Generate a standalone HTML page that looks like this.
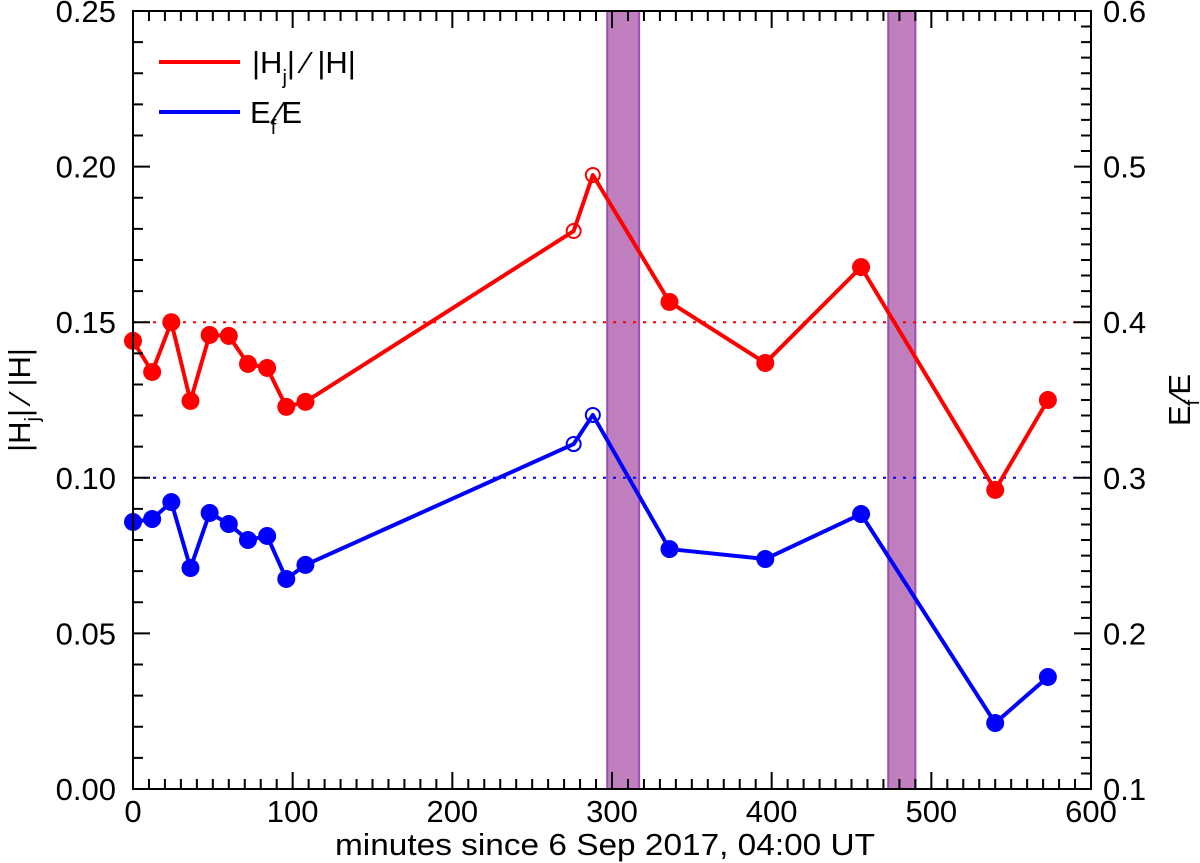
<!DOCTYPE html>
<html><head><meta charset="utf-8"><style>
body{margin:0;background:#fff}
svg{display:block;font-family:"Liberation Sans",Arial,sans-serif}
</style></head><body>
<svg id="chart" width="1200" height="863" viewBox="0 0 1200 863" xmlns="http://www.w3.org/2000/svg">
<g id="bands"></g>
<g id="refs"></g>
<g id="series"></g>
<g id="axes"></g>
<g id="legend">
  <line x1="159" y1="62" x2="240" y2="62" stroke="#f00" stroke-width="4"/>
  <text x="252" y="73" font-size="31">|H<tspan font-size="20" dy="11">j</tspan><tspan dy="-11">| ⁄ |H|</tspan></text>
  <line x1="159" y1="112" x2="240" y2="112" stroke="#00f" stroke-width="4"/>
  <text x="250" y="123" font-size="31">E<tspan font-size="20" dy="11">f</tspan><tspan dy="-11">⁄E</tspan></text>
</g>
<text transform="translate(30,400) rotate(-90)" text-anchor="middle" font-size="31">|H<tspan font-size="20" dy="9">j</tspan><tspan dy="-9">| ⁄ |H|</tspan></text>
<text transform="translate(1190,400) rotate(-90)" text-anchor="middle" font-size="31">E<tspan font-size="20" dy="9">f</tspan><tspan dy="-9">⁄E</tspan></text>
<text x="335" y="855" font-size="31" textLength="540" lengthAdjust="spacingAndGlyphs">minutes since 6 Sep 2017, 04:00 UT</text>
</svg>
<script>
const minutes=[0,12,24,36,48,60,72,84,96,108,276,288,336,396,456,540,573];
const hjRatio=[0.144,0.134,0.150,0.1247,0.1459,0.1456,0.1366,0.1353,0.1228,0.1244,0.1793,0.1973,0.1565,0.1369,0.1677,0.0961,0.125];
const efRatio=[0.2716,0.2735,0.2844,0.242,0.2774,0.2703,0.26,0.2626,0.235,0.244,0.3217,0.3404,0.2542,0.2478,0.2767,0.1424,0.172];
const openFlags=[0,0,0,0,0,0,0,0,0,0,1,1,0,0,0,0,0];
const bandStarts=[297,473];
const bandEnds=[317,490];
const xTicks=[0,100,200,300,400,500,600];
const yLeftTicks=[0,0.05,0.10,0.15,0.20,0.25];
const yLeftLabels=["0.00","0.05","0.10","0.15","0.20","0.25"];
const yRightTicks=[0.1,0.2,0.3,0.4,0.5,0.6];
const yRightLabels=["0.1","0.2","0.3","0.4","0.5","0.6"];
const hjRef=0.15, efRef=0.3;

const L=133,R=1091,T=11,B=789;
const X=v=>L+(v-0)/600*(R-L);
const YL=v=>B-(v-0)/0.25*(B-T);
const YR=v=>B-(v-0.1)/0.5*(B-T);
const NS="http://www.w3.org/2000/svg";
function mk(tag,attrs,parent){const e=document.createElementNS(NS,tag);for(const k in attrs)e.setAttribute(k,attrs[k]);parent.appendChild(e);return e;}
const bands=document.getElementById('bands'),refs=document.getElementById('refs'),ser=document.getElementById('series'),ax=document.getElementById('axes');

bandStarts.forEach((s,i)=>{
  const r=mk('rect',{x:X(s),y:T,width:X(bandEnds[i])-X(s),height:B-T,fill:'#bf7fbf',stroke:'#9b50b0','stroke-width':2},bands);
  
  
});
let l=mk('line',{x1:L,x2:R,y1:YL(hjRef),y2:YL(hjRef),stroke:'#f00','stroke-width':2,'stroke-dasharray':'3 7'},refs);


l=mk('line',{x1:L,x2:R,y1:YR(efRef),y2:YR(efRef),stroke:'#00f','stroke-width':2,'stroke-dasharray':'3 7'},refs);



function drawSeries(vals,Y,color,name){
  const p=mk('polyline',{points:minutes.map((m,i)=>X(m)+','+Y(vals[i])).join(' '),fill:'none',stroke:color,'stroke-width':4,'stroke-linejoin':'round'},ser);
  
  
  minutes.forEach((m,i)=>{
    const c=openFlags[i]?mk('circle',{cx:X(m),cy:Y(vals[i]),r:7,fill:'none',stroke:color,'stroke-width':2},ser):mk('circle',{cx:X(m),cy:Y(vals[i]),r:9,fill:color},ser);
    
    
  });
}
drawSeries(hjRatio,YL,'#f00','hj-ratio');
drawSeries(efRatio,YR,'#00f','ef-ratio');

const fr=mk('rect',{x:L,y:T,width:R-L,height:B-T,fill:'none',stroke:'#000','stroke-width':2},ax);


let d='';
for(let m=0;m<=600;m+=10){const x=X(m),len=(m%100===0)?17:10;d+=`M${x},${B}v${-len}M${x},${T}v${len}`;}
for(let k=0;k<=25;k++){const v=k*0.01,y=YL(v),len=(k%5===0)?17:10;d+=`M${L},${y}h${len}`;}
for(let k=10;k<=60;k++){const v=k*0.01,y=YR(v),len=(k%10===0)?17:10;d+=`M${R},${y}h${-len}`;}
const tk=mk('path',{d:d,stroke:'#000','stroke-width':2,fill:'none'},ax);


xTicks.forEach(v=>{const t=mk('text',{x:X(v),y:822,'text-anchor':'middle','font-size':31},ax);t.textContent=v;
  
  });
yLeftTicks.forEach((v,i)=>{const t=mk('text',{x:116,y:YL(v)+11,'text-anchor':'end','font-size':31},ax);t.textContent=yLeftLabels[i];
  
  });
yRightTicks.forEach((v,i)=>{const t=mk('text',{x:1103,y:YR(v)+11,'text-anchor':'start','font-size':31},ax);t.textContent=yRightLabels[i];
  
  });
</script>
</body></html>
